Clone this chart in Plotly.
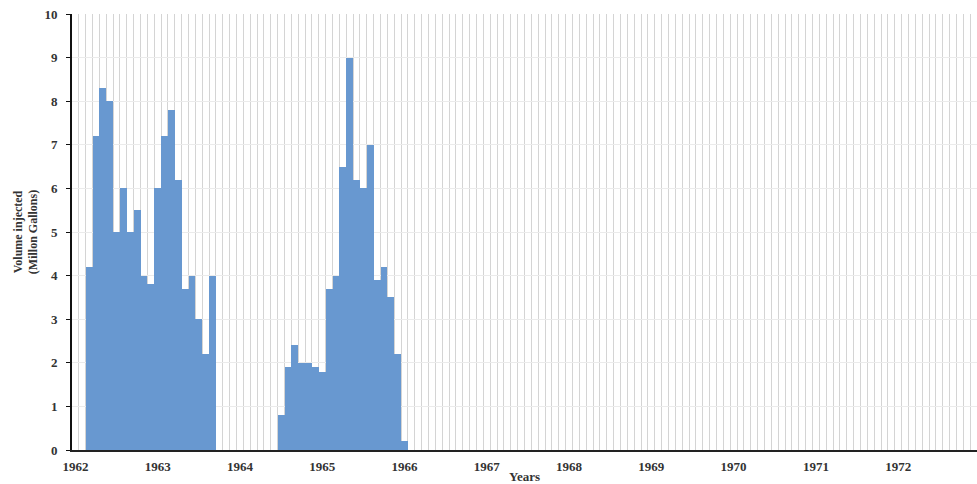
import plotly.graph_objects as go

# Monthly injection volumes (million gallons)
group1_start = (1962, 3)   # March 1962
group1_values = [4.2, 7.2, 8.3, 8.0, 5.0, 6.0, 5.0, 5.5, 4.0, 3.8,
                 6.0, 7.2, 7.8, 6.2, 3.7, 4.0, 3.0, 2.2, 4.0]
group2_start = (1964, 7)   # July 1964
group2_values = [0.8, 1.9, 2.4, 2.0, 2.0, 1.9, 1.8, 3.7, 4.0, 6.5,
                 9.0, 6.2, 6.0, 7.0, 3.9, 4.2, 3.5, 2.2, 0.2]
year_labels = [str(y) for y in range(1962, 1973)]
y_ticks = list(range(0, 11))


def month_pos(start, i):
    y, m = start
    idx = (y - 1962) * 12 + (m - 1) + i
    return 1962 + (idx + 0.5) / 12


xs, ys = [], []
for start, vals in [(group1_start, group1_values), (group2_start, group2_values)]:
    for i, v in enumerate(vals):
        xs.append(month_pos(start, i))
        ys.append(v)

font = "Liberation Serif"
fig = go.Figure(go.Bar(x=xs, y=ys, width=1 / 12, marker=dict(color="#6898D0", line=dict(width=0))))

fig.update_layout(
    width=977, height=484,
    margin=dict(l=72, r=0, t=14, b=34),
    paper_bgcolor="white", plot_bgcolor="white",
    bargap=0, showlegend=False,
    font=dict(family=font, color="#222"),
)
fig.update_xaxes(
    range=[1962, 1973], automargin=False,
    tickvals=[int(t) + 1 / 24 for t in year_labels],
    ticktext=[f"<b>{t}</b>" for t in year_labels],
    tickfont=dict(size=13, family=font, color="#333"),
    showgrid=False,
    minor=dict(dtick=1 / 12, tick0=1962, showgrid=True, gridcolor="#d4d4d4", gridwidth=1),
    showline=True, linecolor="#222", linewidth=2,
    ticks="", zeroline=False, ticklabelstandoff=3,
    title=dict(text="<b>Years</b>", font=dict(size=13, family=font, color="#333"), standoff=4),
)
fig.update_yaxes(
    range=[0, 10], automargin=False,
    tickvals=y_ticks,
    ticktext=[f"<b>{t}</b>" for t in y_ticks],
    tickfont=dict(size=13, family=font, color="#333"),
    showgrid=True, gridcolor="#ebebeb", gridwidth=1,
    showline=True, linecolor="#111", linewidth=2,
    ticks="outside", ticklen=4, tickcolor="#111", tickwidth=1,
    zeroline=False, ticklabelstandoff=6,
    title=dict(text="<b>Volume injected<br>(Millon Gallons)</b>",
               font=dict(size=12, family=font, color="#333"), standoff=4),
)
fig.write_html("out.html")
